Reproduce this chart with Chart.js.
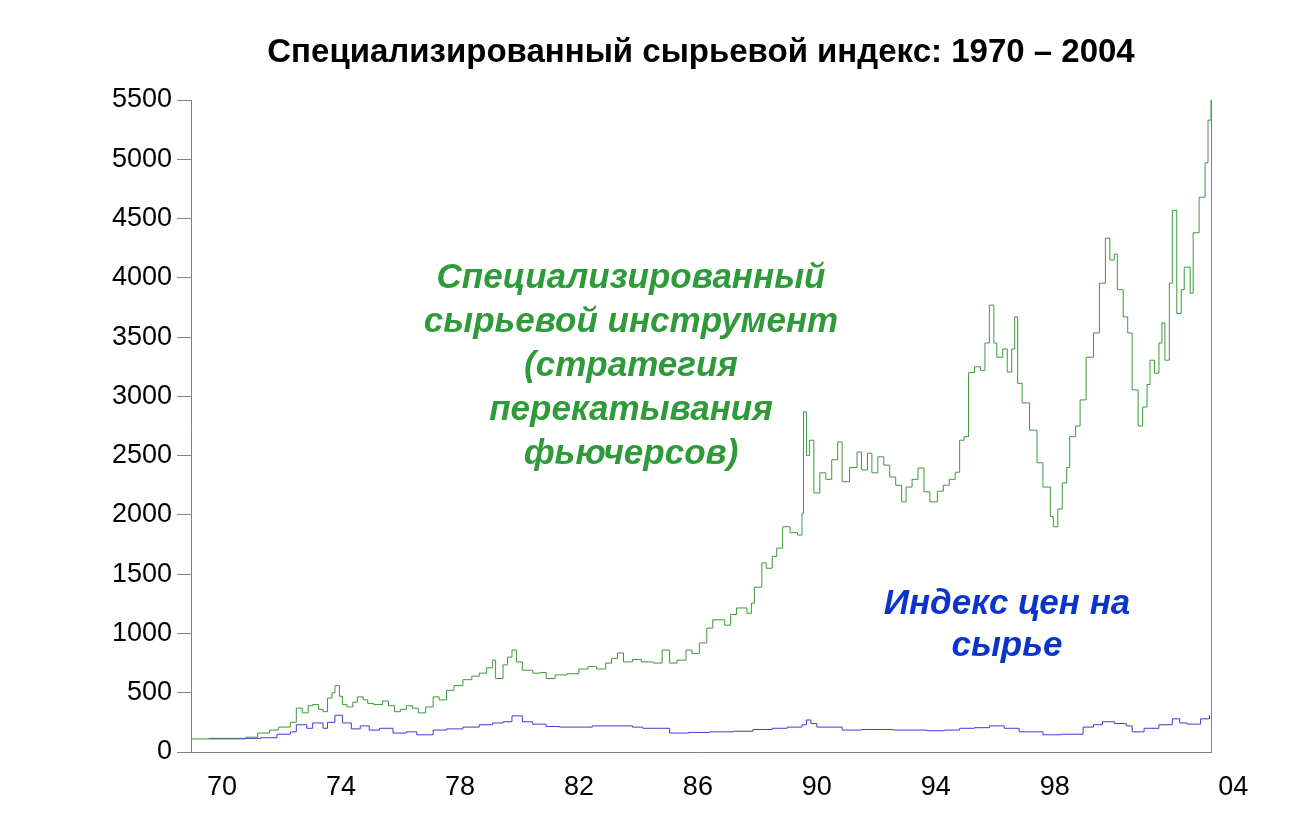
<!DOCTYPE html>
<html>
<head>
<meta charset="utf-8">
<script src="https://cdn.jsdelivr.net/npm/chart.js@4/dist/chart.umd.min.js"></script>
<style>
  body { margin: 0; background: #fff; }
  #wrap { width: 1311px; height: 828px; }
</style>
</head>
<body>
<div id="wrap"><canvas id="chart" width="1311" height="828"></canvas></div>
<script>
// Специализированный сырьевой инструмент (годы и значения)
const greenYears = [
    1969.0, 1970.8, 1971.2, 1971.6, 1971.9, 1972.3, 1972.5, 1972.7, 1972.9, 1973.05,
    1973.25, 1973.4, 1973.55, 1973.7, 1973.8, 1973.95, 1974.05, 1974.2, 1974.4, 1974.55,
    1974.75, 1974.9, 1975.1, 1975.4, 1975.6, 1975.8, 1976.0, 1976.2, 1976.4, 1976.6,
    1976.85, 1977.1, 1977.3, 1977.55, 1977.8, 1978.1, 1978.4, 1978.65, 1978.9, 1979.1,
    1979.2, 1979.45, 1979.6, 1979.75, 1979.9, 1980.1, 1980.45, 1980.7, 1980.9, 1981.2,
    1981.6, 1982.0, 1982.3, 1982.6, 1982.9, 1983.1, 1983.3, 1983.5, 1983.8, 1984.1,
    1984.5, 1984.8, 1985.05, 1985.3, 1985.6, 1985.8, 1986.05, 1986.3, 1986.5, 1986.9,
    1987.1, 1987.3, 1987.65, 1987.8, 1987.9, 1988.15, 1988.3, 1988.5, 1988.65, 1988.85,
    1989.1, 1989.35, 1989.5, 1989.55, 1989.65, 1989.75, 1989.9, 1990.1, 1990.3, 1990.5,
    1990.7, 1990.85, 1991.1, 1991.35, 1991.5, 1991.7, 1991.85, 1992.05, 1992.25, 1992.45,
    1992.65, 1992.85, 1993.0, 1993.2, 1993.4, 1993.6, 1993.8, 1994.05, 1994.25, 1994.45,
    1994.65, 1994.8, 1994.95, 1995.1, 1995.3, 1995.5, 1995.65, 1995.8, 1995.95, 1996.05,
    1996.25, 1996.4, 1996.55, 1996.65, 1996.75, 1996.9, 1997.15, 1997.4, 1997.6, 1997.85,
    1997.95, 1998.1, 1998.25, 1998.4, 1998.5, 1998.7, 1998.85, 1999.05, 1999.3, 1999.5,
    1999.7, 1999.85, 2000.0, 2000.1, 2000.3, 2000.45, 2000.6, 2000.8, 2000.95, 2001.1,
    2001.2, 2001.35, 2001.5, 2001.6, 2001.7, 2001.85, 2001.95, 2002.1, 2002.25, 2002.35,
    2002.55, 2002.65, 2002.85, 2003.05, 2003.15, 2003.25
];
const greenValues = [
    110, 125, 160, 185, 210, 250, 370, 330, 390, 400,
    360, 340, 455, 500, 560, 470, 400, 380, 420, 465,
    440, 410, 400, 430, 390, 340, 360, 390, 370, 330,
    380, 465, 440, 520, 560, 610, 640, 665, 710, 775,
    620, 735, 800, 860, 760, 690, 665, 670, 620, 650,
    660, 700, 720, 700, 750, 790, 835, 760, 780, 760,
    750, 860, 750, 775, 860, 830, 920, 1045, 1115, 1070,
    1160, 1215, 1170, 1255, 1390, 1595, 1550, 1650, 1720, 1900,
    1850, 1830, 2015, 2870, 2500, 2630, 2185, 2355, 2300, 2465,
    2615, 2280, 2400, 2530, 2380, 2520, 2355, 2490, 2420, 2320,
    2250, 2110, 2235, 2300, 2395, 2195, 2110, 2200, 2250, 2300,
    2360, 2630, 2660, 3200, 3250, 3220, 3450, 3770, 3450, 3330,
    3400, 3205, 3400, 3670, 3110, 2945, 2715, 2440, 2235, 1985,
    1900, 2050, 2270, 2400, 2660, 2750, 2970, 3330, 3535, 3955,
    4335, 4150, 4200, 3900, 3670, 3535, 3055, 2750, 2910, 3100,
    3305, 3195, 3450, 3620, 3305, 3955, 4570, 3700, 3900, 4090,
    3870, 4380, 4680, 4970, 5330, 5500
];

// Индекс цен на сырье
const blueYears = [
    1969.55, 1970.9, 1971.3, 1971.85, 1972.3, 1972.5, 1972.85, 1973.05, 1973.4, 1973.55,
    1973.8, 1974.05, 1974.35, 1974.65, 1974.95, 1975.3, 1975.75, 1976.2, 1976.55, 1977.1,
    1977.55, 1978.1, 1978.65, 1979.1, 1979.45, 1979.75, 1980.1, 1980.45, 1980.9, 1981.35,
    1982.45, 1983.25, 1983.8, 1984.15, 1984.7, 1985.05, 1985.7, 1986.4, 1987.2, 1987.85,
    1988.5, 1989.0, 1989.5, 1989.65, 1989.8, 1990.0, 1990.85, 1991.5, 1992.55, 1993.7,
    1994.3, 1994.8, 1995.3, 1995.8, 1996.3, 1996.8, 1997.6, 1998.2, 1998.95, 1999.3,
    1999.6, 2000.0, 2000.4, 2000.6, 2001.0, 2001.5, 2001.95, 2002.2, 2002.45, 2002.9,
    2003.2
];
const blueValues = [
    115, 115, 120, 150, 170, 230, 200, 245, 200, 250,
    310, 245, 195, 220, 185, 200, 160, 170, 145, 185,
    195, 210, 230, 245, 255, 305, 255, 235, 215, 210,
    220, 220, 210, 200, 200, 160, 165, 170, 175, 190,
    200, 210, 230, 270, 240, 210, 185, 190, 185, 180,
    185, 200, 205, 220, 200, 170, 145, 150, 210, 230,
    255, 240, 220, 170, 200, 230, 280, 245, 235, 280,
    310
];

const xTickYears = [1970, 1974, 1978, 1982, 1986, 1990, 1994, 1998, 2004];
const xTickLabels = ['70', '74', '78', '82', '86', '90', '94', '98', '04'];

const titleText = 'Специализированный сырьевой индекс: 1970 – 2004';
const greenNote = ['Специализированный', 'сырьевой инструмент', '(стратегия', 'перекатывания', 'фьючерсов)'];
const blueNote = ['Индекс цен на', 'сырье'];

const FONT = "'Liberation Sans', Arial, sans-serif";
const AXIS_COLOR = '#808080';

const notesPlugin = {
    id: 'notes',
    afterDraw(chart) {
        const ctx = chart.ctx;
        const area = chart.chartArea;
        ctx.save();
        // правая рамка
        ctx.strokeStyle = AXIS_COLOR;
        ctx.lineWidth = 1;
        ctx.beginPath();
        ctx.moveTo(Math.round(area.right) + 0.5, area.top);
        ctx.lineTo(Math.round(area.right) + 0.5, area.bottom);
        ctx.stroke();

        ctx.textAlign = 'center';
        ctx.textBaseline = 'middle';

        ctx.fillStyle = '#000';
        ctx.font = "bold 33px " + FONT;
        ctx.fillText(titleText, 701, 53);

        ctx.font = "italic bold 35px " + FONT;
        ctx.fillStyle = '#2f9a3a';
        greenNote.forEach((line, i) => ctx.fillText(line, 631, 278 + i * 44));

        ctx.fillStyle = '#0b35c8';
        blueNote.forEach((line, i) => ctx.fillText(line, 1007, 604 + i * 42));
        ctx.restore();
    }
};

const ctx = document.getElementById('chart').getContext('2d');
const chart = new Chart(ctx, {
    type: 'line',
    data: {
        datasets: [{
            label: 'Специализированный сырьевой инструмент',
            data: greenYears.map((x, i) => ({ x: x, y: greenValues[i] })),
            borderColor: '#3a9a3a',
            borderWidth: 1,
            pointRadius: 0,
            stepped: true,
        }, {
            label: 'Индекс цен на сырье',
            data: blueYears.map((x, i) => ({ x: x, y: blueValues[i] })),
            borderColor: '#3c3cd2',
            borderWidth: 1,
            pointRadius: 0,
            stepped: true,
        }]
    },
    options: {
        responsive: false,
        animation: false,
        layout: {
            padding: { left: 0, right: 100, top: 100, bottom: 0 }
        },
        scales: {
            x: {
                type: 'linear',
                min: 1968.96,
                max: 2003.25,
                afterFit: (scale) => { scale.height = 76; },
                afterBuildTicks: (scale) => {
                    scale.ticks = xTickYears.map(v => ({ value: v }));
                },
                ticks: {
                    autoSkip: false,
                    maxRotation: 0,
                    padding: 11,
                    color: '#000',
                    font: { family: FONT, size: 27 },
                    callback: (value) => xTickLabels[xTickYears.indexOf(value)]
                },
                grid: {
                    display: false
                },
                border: {
                    display: true,
                    color: AXIS_COLOR
                }
            },
            y: {
                min: 0,
                max: 5500,
                afterFit: (scale) => { scale.width = 191; },
                ticks: {
                    stepSize: 500,
                    padding: 5,
                    color: '#000',
                    font: { family: FONT, size: 27 },
                    callback: (value) => String(value)
                },
                grid: {
                    drawOnChartArea: false,
                    drawTicks: true,
                    tickLength: 14,
                    color: AXIS_COLOR
                },
                border: {
                    display: true,
                    color: AXIS_COLOR
                }
            }
        },
        plugins: {
            legend: { display: false },
            tooltip: { enabled: false },
            title: { display: false }
        }
    },
    plugins: [notesPlugin]
});
</script>
</body>
</html>
